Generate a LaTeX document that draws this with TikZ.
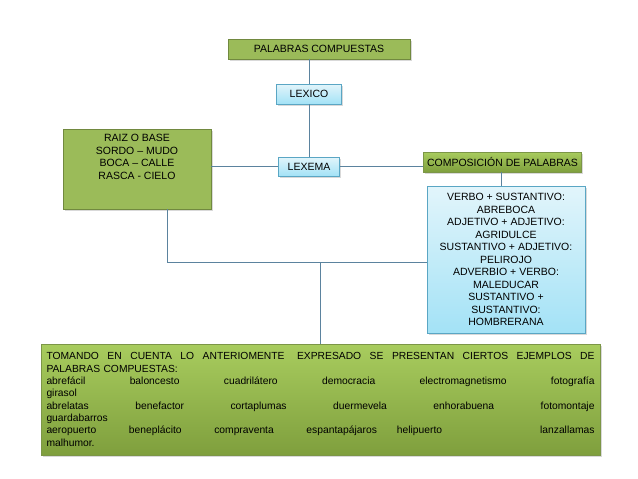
\documentclass[tikz,border=0pt]{standalone}
\usepackage{fontspec}
\setmainfont{Liberation Sans}
\usetikzlibrary{shadows}
\definecolor{leafgreen}{HTML}{9BBB59}
\definecolor{leafdark}{HTML}{71893F}
\definecolor{leaftop}{HTML}{A8CC5E}
\definecolor{leafbot}{HTML}{7F9F3D}
\definecolor{skyline}{HTML}{5AA6C4}
\definecolor{skytop}{HTML}{E2F5FB}
\definecolor{skybot}{HTML}{A3E2F6}
\definecolor{wire}{HTML}{5B839E}
\begin{document}
\begin{tikzpicture}[x=1pt, y=-1pt,
    every node/.style={font=\fontsize{10.5}{12.5}\selectfont, inner sep=2pt, align=center},
    greenbox/.style={draw=leafdark, fill=leafgreen, line width=0.9pt,
        drop shadow={shadow xshift=1.5pt, shadow yshift=-2pt, opacity=0.3}},
    greenshade/.style={draw=leafgreen!80!black, top color=leaftop, bottom color=leafbot, line width=0.4pt,
        drop shadow={shadow xshift=1.5pt, shadow yshift=-2pt, opacity=0.3}},
    bluebox/.style={draw=skyline, top color=skytop, bottom color=skybot, line width=0.6pt,
        drop shadow={shadow xshift=1.5pt, shadow yshift=-2pt, opacity=0.3}},
    link/.style={draw=wire, line width=0.8pt}]
    \useasboundingbox (0,0) rectangle (638,479);

    \node[greenbox, minimum width=182pt, minimum height=20pt] (comp) at (319,49) {PALABRAS COMPUESTAS};
    \node[bluebox, minimum width=65pt, minimum height=20pt] (lexico) at (309,94) {LEXICO};
    \node[bluebox, minimum width=61pt, minimum height=19pt] (lexema) at (309,166.5) {LEXEMA};
    \node[greenbox, minimum width=148pt, minimum height=80pt] (raiz) at (137,169) {};
    \node[anchor=north] (raiztext) at (137,132) {RAIZ O BASE\\SORDO -- MUDO\\BOCA -- CALLE\\RASCA - CIELO};
    \node[greenshade, minimum width=158pt, minimum height=20pt] (compo) at (502.5,162) {COMPOSICIÓN DE PALABRAS};
    \node[bluebox, minimum width=158pt, minimum height=147pt] (verbo) at (506,259.5)
        {VERBO + SUSTANTIVO:\\ABREBOCA\\ADJETIVO + ADJETIVO:\\AGRIDULCE\\SUSTANTIVO + ADJETIVO:\\PELIROJO\\
         ADVERBIO + VERBO:\\MALEDUCAR\\SUSTANTIVO +\\SUSTANTIVO:\\HOMBRERANA};
    \node[greenshade, minimum width=559pt, minimum height=111pt, text width=548pt, align=left,
        font=\fontsize{10.3}{12.3}\selectfont] (ejemplos) at (320.5,399.5)
        {TOMANDO\hfill EN\hfill CUENTA\hfill LO\hfill ANTERIOMENTE\hspace{4pt}\hfill EXPRESADO\hfill SE\hfill PRESENTAN\hfill CIERTOS\hfill EJEMPLOS\hfill DE\\
         PALABRAS COMPUESTAS:\\
         abrefácil\hfill baloncesto\hfill cuadrilátero\hfill democracia\hfill electromagnetismo\hfill fotografía\\
         girasol\\
         abrelatas\hfill benefactor\hfill cortaplumas\hfill duermevela\hfill enhorabuena\hfill fotomontaje\\
         guardabarros\\
         aeropuerto\hfill beneplácito\hfill compraventa\hfill espantapájaros\hspace{20pt}helipuerto\hfill\hfill\hfill lanzallamas\\
         malhumor.};

    \coordinate (j) at (167,262);

    \draw[link] (comp.south -| lexico) -- (lexico) -- (lexema);
    \draw[link] (raiz.east |- lexema) -- (lexema.west);
    \draw[link] (lexema.east) -- (lexema.east -| compo.west);
    \draw[link] (compo.south -| 501,0) -- (verbo.north -| 501,0);
    \draw[link] (raiz.south -| j) -- (j) -- (j -| verbo.west);
    \draw[link] (j -| ejemplos.north) -- (ejemplos.north);
\end{tikzpicture}
\end{document}
